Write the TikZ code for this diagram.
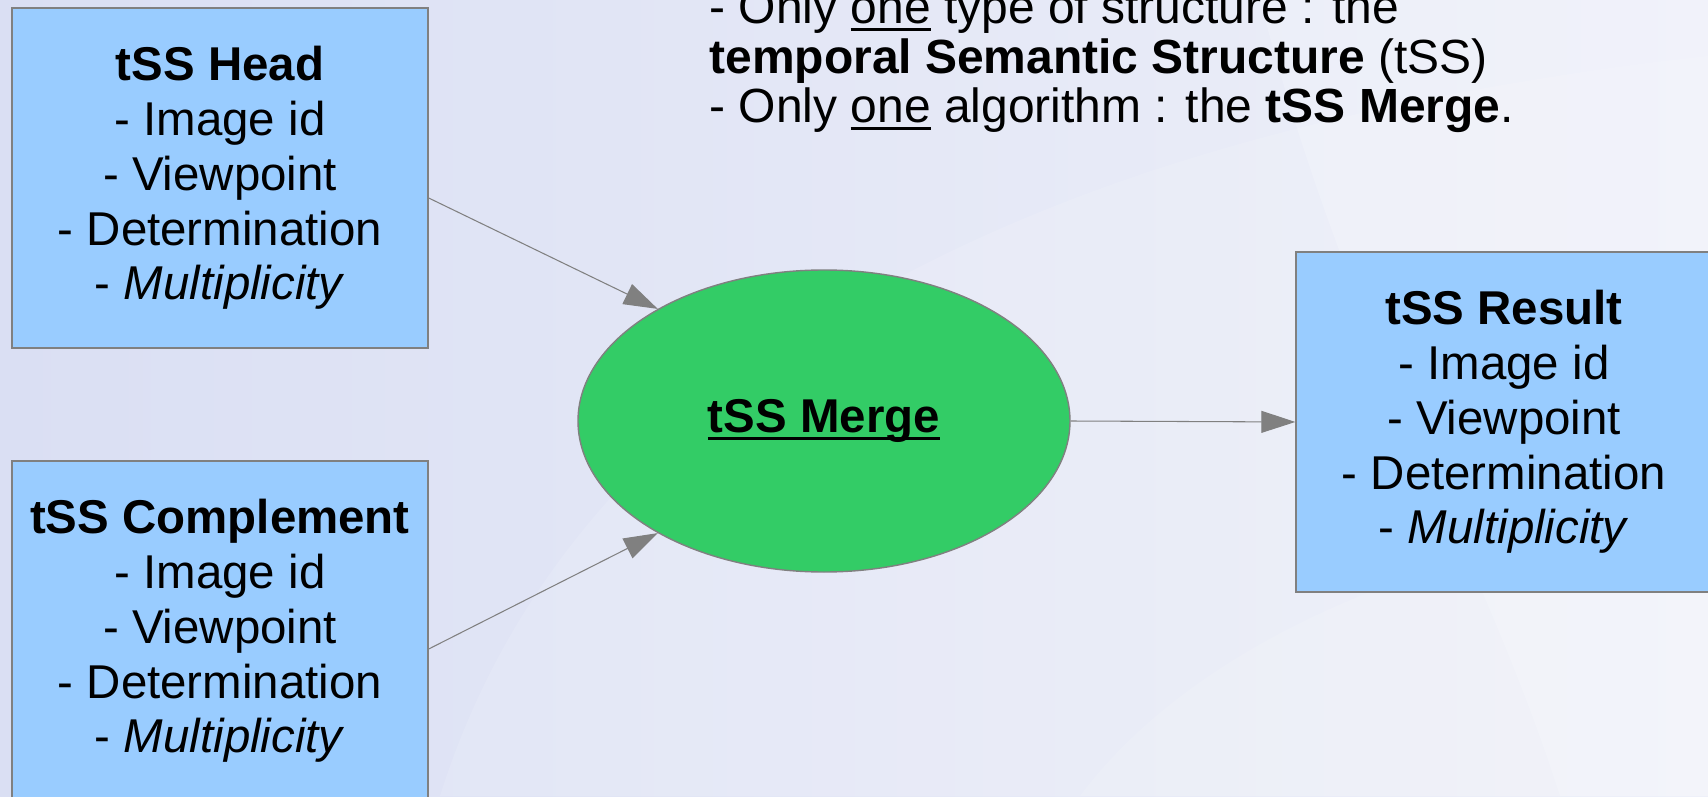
\documentclass[tikz,border=0pt]{standalone}
\usepackage{fontspec}
\setmainfont{Liberation Sans}
\usepackage{xcolor}
\usepackage{tikz}
\usetikzlibrary{arrows.meta}
\usetikzlibrary{shapes.geometric}
\definecolor{boxblue}{HTML}{99CCFF}
\definecolor{algogreen}{HTML}{33CC66}
\definecolor{edgegray}{HTML}{808080}
\definecolor{bgleft}{HTML}{DADFF3}
\definecolor{bgright}{HTML}{EEF0F9}
\newcommand{\lowline}[1]{\setbox0=\hbox{#1}\rlap{\rule[-0.15em]{\wd0}{0.06em}}\box0\relax}
\tikzset{
structure/.style = { rectangle, draw = edgegray, fill = boxblue, minimum width = 4.16cm, minimum height = 3.4cm, inner sep = 0pt, align = center, font = \fontsize{13.5}{15.6}\selectfont },
algorithm/.style = { ellipse, draw = edgegray, fill = algogreen, minimum width = 4.92cm, minimum height = 3.02cm, inner sep = 0pt, font = \fontsize{13.5}{15.6}\selectfont\bfseries },
link/.style = { draw = edgegray, line width = 0.3pt, -{Triangle[length = 3.4mm, width = 2.2mm]} },
}

\begin{document}
\begin{tikzpicture}
      \useasboundingbox (0, 0) rectangle (17.08, 7.96);
      \clip (0, 0) rectangle (17.08, 7.96);
      % background
      \fill[left color = bgleft, right color = bgright] (0, 0) rectangle (17.08, 7.96);
      \fill[white, opacity = 0.12] (4.4, 0) .. controls (5.5, 3.5) and (9, 6.5) .. (17.08, 7.4) -- (17.08, 0) -- cycle;
      \fill[white, opacity = 0.18] (15.6, 0) .. controls (14.8, 2.5) and (13.5, 4.5) .. (12.6, 7.96) -- (17.08, 7.96) -- (17.08, 0) -- cycle;
      \fill[white, opacity = 0.12] (10.8, 0) .. controls (12, 1.6) and (14.5, 2.6) .. (17.08, 2.8) -- (17.08, 0) -- cycle;

      \node[anchor = base west, align = left, font = \fontsize{13.65}{14.1}\selectfont] (intro) at (6.97, 6.73) {- Only \lowline{one} type of structure : the\\\textbf{temporal Semantic Structure} (tSS)\\- Only \lowline{one} algorithm : the \textbf{tSS Merge}.};

      \node[structure] (head) at (2.2, 6.18) {\textbf{tSS Head}\\- Image id\\- Viewpoint\\- Determination\\- \textit{Multiplicity}};
      \node[structure] (complement) at (2.2, 1.65) {\textbf{tSS Complement}\\- Image id\\- Viewpoint\\- Determination\\- \textit{Multiplicity}};
      \node[algorithm] (merge) at (8.24, 3.75) {\lowline{tSS Merge}};
      \node[structure] (result) at (15.04, 3.74) {\textbf{tSS Result}\\- Image id\\- Viewpoint\\- Determination\\- \textit{Multiplicity}};

      \draw[link] ([yshift = -2mm]head.east) -- (merge.146);
      \draw[link] ([yshift = -1.8mm]complement.east) -- (merge.214);
      \draw[link] (merge.east) -- (result.west);
    \end{tikzpicture}
\end{document}
